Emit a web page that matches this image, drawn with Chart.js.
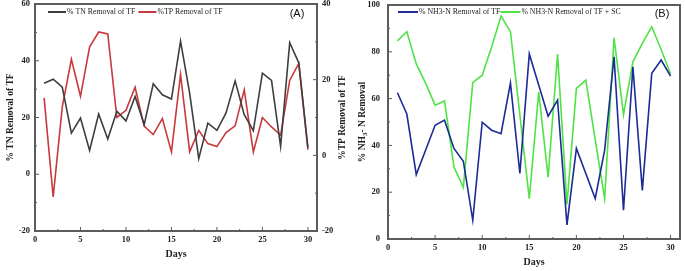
<!DOCTYPE html>
<html>
<head>
<meta charset="utf-8">
<script src="https://cdn.jsdelivr.net/npm/chart.js@4/dist/chart.umd.min.js"></script>
<style>
body { margin: 0; background: #fff; }
#wrapA { position: absolute; left: 0; top: 0; width: 355px; height: 271px; }
#wrapB { position: absolute; left: 350px; top: 0; width: 335px; height: 271px; }
</style>
</head>
<body>
<div id="wrapA"><canvas id="chartA"></canvas></div>
<div id="wrapB"><canvas id="chartB"></canvas></div>
<script>
// days of operation
var days = [1, 2, 3, 4, 5, 6, 7, 8, 9, 10, 11, 12, 13, 14, 15, 16, 17, 18, 19, 20, 21, 22, 23, 24, 25, 26, 27, 28, 29, 30];

// panel (A): TN on left axis, TP on right axis
var tn_removal = [32.1, 33.5, 30.7, 14.5, 19.8, 8.4, 21.2, 12.4, 22.2, 18.8, 27.4, 17.5, 31.9, 28, 26.5, 46.9, 28.6, 5.5, 18, 15.5, 21.6, 32.9, 21, 15.4, 35.6, 33.1, 9.8, 46.4, 39.2, 9.4];
var tp_removal = [15.2, -11, 12.8, 25.4, 15.6, 28.6, 32.6, 32.1, 10, 11.9, 18, 7.7, 5.5, 9.7, 0.9, 21.4, 0.9, 6.6, 3.1, 2.3, 6, 7.8, 17.3, 0.9, 10, 7.5, 5.3, 19.8, 24.3, 1.5];

// panel (B): NH3-N removal
var nh3_tf = [62.5, 53.4, 27.5, 38, 48.6, 50.8, 38.7, 33.2, 8, 49.9, 46.5, 45, 66.6, 28, 79.1, 65.8, 52.5, 59.4, 6, 38.7, 28, 17.3, 38, 77.9, 12.3, 73.6, 20.8, 70.8, 76.5, 69.6];
var nh3_tf_sc = [84.7, 88.6, 74.8, 66.5, 57.2, 59, 30.8, 22, 66.8, 70, 82, 95.3, 88.6, 53, 17.2, 62.8, 26.4, 79, 14.8, 64.4, 67.9, 42.5, 17.3, 86, 53.2, 75.7, 83.6, 90.7, 81, 70.5];

// axis ranges: [min, max, major step, minor step]
var days_axis = [0, 31, 5, 2.5];
var tn_axis = [-20, 60, 20, 10];
var tp_axis = [-20, 40, 20, 10];
var nh3_axis = [0, 100, 20, 10];

var tickFont = { family: '"Liberation Serif", "Times New Roman", serif', size: 8.5, weight: 'bold', lineHeight: 1 };
var titleFont = { family: '"Liberation Serif", "Times New Roman", serif', size: 10, weight: 'bold' };
var txtColor = '#222';

function pts(ys) {
    return days.map(function(d, i) { return { x: d, y: ys[i] }; });
}

// frame box + small inward tick marks
var frameTicks = {
    id: 'frameTicks',
    afterDraw: function(chart, args, opts) {
        var ctx = chart.ctx, a = chart.chartArea;
        ctx.save();
        ctx.strokeStyle = '#5c5c5c';
        ctx.lineWidth = 1;
        (opts.marks || []).forEach(function(m) {
            var s = chart.scales[m.id];
            for (var v = s.min; v <= s.max + 1e-9; v += m.minor) {
                var r = v / m.major;
                var len = Math.abs(r - Math.round(r)) < 1e-6 ? 4 : 2;
                var p = s.getPixelForValue(v);
                ctx.beginPath();
                if (s.isHorizontal()) {
                    ctx.moveTo(p, a.bottom); ctx.lineTo(p, a.bottom - len);
                } else if (s.position === 'left') {
                    ctx.moveTo(a.left, p); ctx.lineTo(a.left + len, p);
                } else {
                    ctx.moveTo(a.right, p); ctx.lineTo(a.right - len, p);
                }
                ctx.stroke();
            }
        });
        ctx.lineWidth = 2;
        ctx.strokeRect(a.left, a.top, a.right - a.left, a.bottom - a.top);
        ctx.restore();
    }
};

// legend inside the plot + panel tag
var innerLegend = {
    id: 'innerLegend',
    beforeDatasetsDraw: function(chart, args, opts) {
        var ctx = chart.ctx, a = chart.chartArea;
        var x = a.left + opts.left, y = a.top + opts.top;
        ctx.save();
        ctx.font = '7.8px "Liberation Serif", serif';
        ctx.textBaseline = 'middle';
        chart.data.datasets.forEach(function(ds) {
            ctx.strokeStyle = ds.borderColor;
            ctx.lineWidth = 2;
            ctx.beginPath();
            ctx.moveTo(x, y);
            ctx.lineTo(x + opts.lineLen, y);
            ctx.stroke();
            x += opts.lineLen + 1;
            ctx.fillStyle = txtColor;
            ctx.fillText(ds.label, x, y);
            x += ctx.measureText(ds.label).width + opts.gap;
        });
        ctx.font = '11px "Liberation Sans", Arial, sans-serif';
        ctx.textAlign = 'center';
        ctx.fillStyle = '#111';
        ctx.fillText(opts.tag, a.right - opts.tagRight, y + 2);
        ctx.restore();
    }
};

// vertical titles that Chart.js can't do (subscript / right side reading upward)
var sideTitle = {
    id: 'sideTitle',
    afterDraw: function(chart, args, opts) {
        if (!opts.parts) return;
        var ctx = chart.ctx, a = chart.chartArea;
        ctx.save();
        ctx.translate(opts.x, (a.top + a.bottom) / 2);
        ctx.rotate(-Math.PI / 2);
        ctx.fillStyle = txtColor;
        ctx.textBaseline = 'middle';
        var fontOf = function(p) {
            return 'bold ' + (p.small ? 7 : 9.5) + 'px "Liberation Serif", serif';
        };
        var total = 0;
        opts.parts.forEach(function(p) { ctx.font = fontOf(p); total += ctx.measureText(p.text).width; });
        var x = -total / 2;
        opts.parts.forEach(function(p) {
            ctx.font = fontOf(p);
            ctx.fillText(p.text, x, p.dy || 0);
            x += ctx.measureText(p.text).width;
        });
        ctx.restore();
    }
};

function xScale() {
    return {
        type: 'linear', min: days_axis[0], max: days_axis[1],
        grid: { display: false, drawTicks: false }, border: { display: false },
        ticks: { stepSize: days_axis[2], includeBounds: false, padding: 5, font: tickFont, color: txtColor, maxRotation: 0 },
        title: { display: true, text: 'Days', font: titleFont, color: txtColor, padding: 0 },
        afterFit: function(s) { s.height = 29; }
    };
}

function yScale(range, pos, width, pad) {
    return {
        type: 'linear', position: pos, min: range[0], max: range[1],
        grid: { display: false, drawTicks: false }, border: { display: false },
        ticks: { stepSize: range[2], includeBounds: false, padding: pad, font: tickFont, color: txtColor },
        afterFit: function(s) {
            s.width = width;
            s.paddingTop = 0;
            s.paddingBottom = 0;
        }
    };
}

var yA = yScale(tn_axis, 'left', 30, 5);
yA.title = { display: true, text: '% TN Removal of TF', font: { family: titleFont.family, size: 9.5, weight: 'bold' }, color: txtColor, padding: 0 };

new Chart(document.getElementById('chartA'), {
    type: 'line',
    data: {
        datasets: [{
            label: '% TN Removal of TF',
            data: pts(tn_removal),
            borderColor: '#3e3e3e',
            yAxisID: 'y'
        }, {
            label: '%TP Removal of TF',
            data: pts(tp_removal),
            borderColor: '#c9383d',
            yAxisID: 'y2'
        }]
    },
    options: {
        responsive: true,
        maintainAspectRatio: false,
        animation: false,
        layout: { autoPadding: false, padding: { left: 5, right: 5, top: 4, bottom: 11 } },
        elements: { point: { radius: 0, hoverRadius: 0 }, line: { borderWidth: 1.6, tension: 0 } },
        plugins: {
            legend: { display: false },
            tooltip: { enabled: false },
            frameTicks: { marks: [
                { id: 'x', major: days_axis[2], minor: days_axis[3] },
                { id: 'y', major: tn_axis[2], minor: tn_axis[3] },
                { id: 'y2', major: tp_axis[2], minor: tp_axis[3] }
            ] },
            innerLegend: { left: 13, top: 8, lineLen: 18, gap: 3, tag: '(A)', tagRight: 20 },
            sideTitle: { x: 343, parts: [{ text: '%TP Removal of TF' }] }
        },
        scales: {
            x: xScale(),
            y: yA,
            y2: yScale(tp_axis, 'right', 33, 5)
        }
    },
    plugins: [frameTicks, innerLegend, sideTitle]
});

new Chart(document.getElementById('chartB'), {
    type: 'line',
    data: {
        datasets: [{
            label: '% NH3-N Removal of TF',
            data: pts(nh3_tf),
            borderColor: '#1d2b96'
        }, {
            label: '% NH3-N Removal of TF + SC',
            data: pts(nh3_tf_sc),
            borderColor: '#4fe346'
        }]
    },
    options: {
        responsive: true,
        maintainAspectRatio: false,
        animation: false,
        layout: { autoPadding: false, padding: { left: 0, right: 5, top: 5, bottom: 3 } },
        elements: { point: { radius: 0, hoverRadius: 0 }, line: { borderWidth: 1.6, tension: 0 } },
        plugins: {
            legend: { display: false },
            tooltip: { enabled: false },
            frameTicks: { marks: [
                { id: 'x', major: days_axis[2], minor: days_axis[3] },
                { id: 'y', major: nh3_axis[2], minor: nh3_axis[3] }
            ] },
            innerLegend: { left: 10, top: 7, lineLen: 20, gap: 0, tag: '(B)', tagRight: 18 },
            sideTitle: { x: 13, parts: [{ text: '% NH' }, { text: '3', small: true, dy: 2.5 }, { text: '- N Removal' }] }
        },
        scales: {
            x: xScale(),
            y: yScale(nh3_axis, 'left', 38, 8)
        }
    },
    plugins: [frameTicks, innerLegend, sideTitle]
});
</script>
</body>
</html>
